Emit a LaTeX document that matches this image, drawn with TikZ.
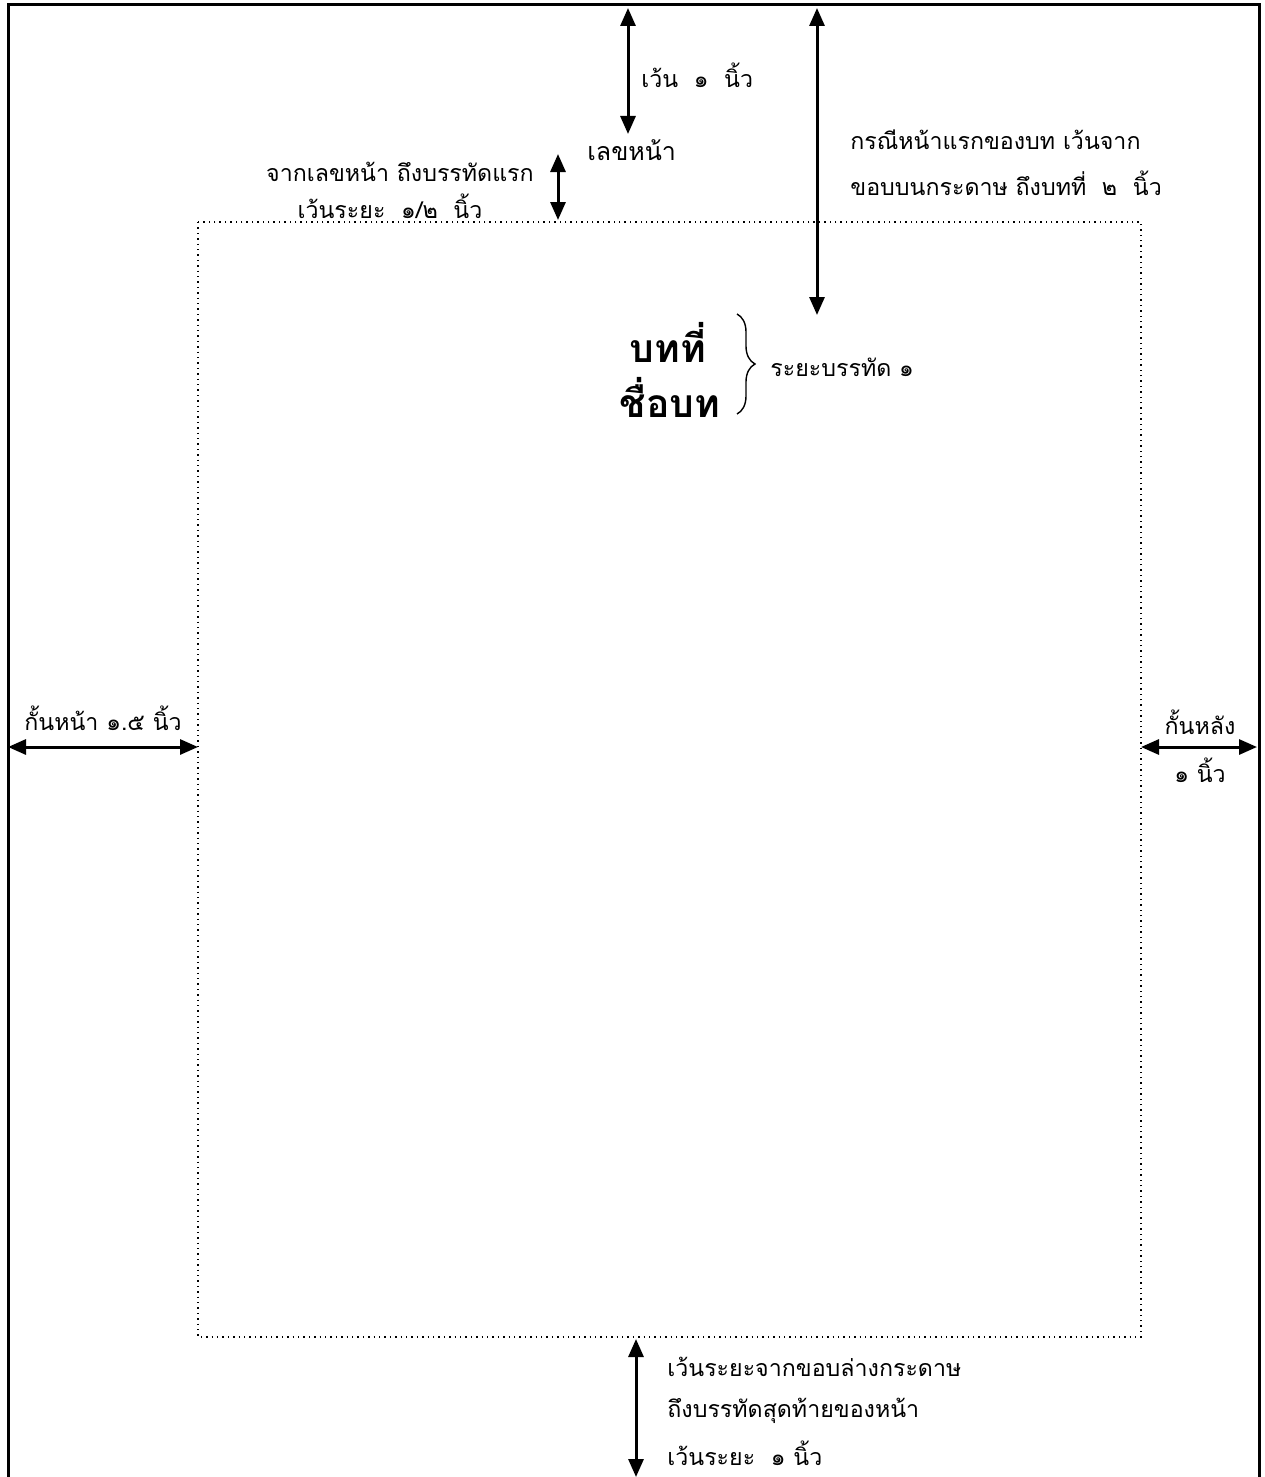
\documentclass[tikz,border=0pt]{standalone}
\usepackage{fontspec}
\newfontfamily\thaifont[Script=Thai]{Loma}
\usetikzlibrary{arrows.meta,decorations.pathreplacing}
\begin{document}
\begin{tikzpicture}[x=0.5pt,y=-0.5pt,
  font=\thaifont\fontsize{11.6}{15}\selectfont,
  tip/.tip={Triangle[width=7.5pt,length=9pt]},
  dim/.style={line width=1.5pt, tip-tip},
  lbl/.style={inner sep=0pt, anchor=west},
  clbl/.style={inner sep=0pt},
  big/.style={inner sep=0pt, font=\thaifont\bfseries\fontsize{19.5}{24}\selectfont}]
\useasboundingbox (0,0) rectangle (1264,1477);
% page border
\coordinate (pbl) at (8,1480);
\coordinate (ptl) at (8,5);
\coordinate (ptr) at (1259,5);
\coordinate (pbr) at (1259,1480);
\draw[line width=1.5pt] (pbl) -- (ptl) -- (ptr) -- (pbr);
% text area
\coordinate (tl) at (198,222);
\coordinate (br) at (1141,1337);
\draw[dotted, line width=0.7pt] (tl) rectangle (br);
% top arrow 1
\coordinate (a1t) at (628,8);
\coordinate (a1b) at (628,134);
\draw[dim] (a1t) -- (a1b);
\node[lbl] (t1) at (641,75) {เว้น ~๑ ~นิ้ว};
\node[lbl] (pn) at (587,150) {\fontsize{12.5}{15}\selectfont เลขหน้า};
% arrow 2
\coordinate (a2t) at (558,154);
\coordinate (a2b) at (558,220);
\draw[dim] (a2t) -- (a2b);
\node[clbl] (t2a) at (400,172) {จากเลขหน้า ถึงบรรทัดแรก};
\node[clbl] (t2b) at (390,206) {เว้นระยะ ~๑/๒ ~นิ้ว};
% arrow 3
\coordinate (a3t) at (817,8);
\coordinate (a3b) at (817,315);
\draw[dim] (a3t) -- (a3b);
\node[lbl] (t3a) at (850,140) {กรณีหน้าแรกของบท เว้นจาก};
\node[lbl] (t3b) at (850,183) {ขอบบนกระดาษ ถึงบทที่ ~๒ ~นิ้ว};
% chapter
\node[big] (ch) at (668,342) {บทที่};
\node[big] (cn) at (670,397) {ชื่อบท};
\coordinate (bt) at (737,314);
\coordinate (bb) at (737,414);
\draw[line width=0.7pt, decorate, decoration={brace, amplitude=9pt}] (bt) -- (bb);
\node[lbl] (ls) at (770,367) {ระยะบรรทัด ๑};
% left margin
\coordinate (ll) at (8,747);
\coordinate (lr) at (198,747);
\draw[dim] (ll) -- (lr);
\node[lbl] (tl1) at (24,718) {กั้นหน้า ๑.๕ นิ้ว};
% right margin
\coordinate (rl) at (1141,747);
\coordinate (rr) at (1257,747);
\draw[dim] (rl) -- (rr);
\node[clbl] (tr1) at (1200,722) {กั้นหลัง};
\node[clbl] (tr2) at (1200,770) {๑ นิ้ว};
% bottom
\coordinate (bt1) at (636,1339);
\coordinate (bt2) at (636,1477);
\draw[dim] (bt1) -- (bt2);
\node[lbl] (b1) at (667,1367) {เว้นระยะจากขอบล่างกระดาษ};
\node[lbl] (b2) at (667,1411) {ถึงบรรทัดสุดท้ายของหน้า};
\node[lbl] (b3) at (667,1453) {เว้นระยะ ~๑ นิ้ว};
\end{tikzpicture}
\end{document}
